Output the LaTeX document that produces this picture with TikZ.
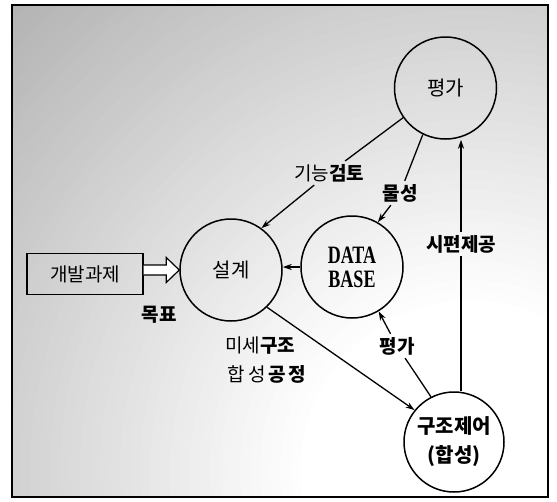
\documentclass[tikz,border=0pt]{standalone}
\usepackage{fontspec}
\setmainfont{Noto Sans CJK KR}
\newfontfamily\dbfont[FakeStretch=0.72]{Liberation Serif}
\usetikzlibrary{arrows.meta,calc}
\begin{document}
\begin{tikzpicture}[x=1pt,y=-1pt,
  circ/.style={circle,draw,line width=1.5pt,minimum size=102pt,inner sep=0pt,align=center,font=\fontsize{20}{23}\selectfont},
  lbl/.style={inner sep=3pt,font=\fontsize{19}{21}\selectfont},
  bl/.style={lbl,font=\fontsize{19}{21}\selectfont\bfseries},
  conn/.style={line width=1.3pt},
  arr/.style={conn,-{Stealth[length=9pt,width=6pt]}}]
\useasboundingbox (0,0) rectangle (557,501);
\begin{scope}
  \clip (12,5) rectangle (548,497);
  \foreach \r in {660,650,...,170}{
    \pgfmathsetmacro{\g}{max(0,30*(\r-170)/490)}
    \fill[black!\g] (470,470) circle[radius=\r];
  }
\end{scope}
\draw[line width=1.8pt] (12,5) rectangle (548,497);

% circles
\node[circ] (eval) at (445.5,88) {평가};
\node[circ] (des) at (231,270) {설계};
\node[circ,font=\dbfont\bfseries\fontsize{25}{24}\selectfont] (db) at (352,267) {DATA\\BASE};
\node[circ,minimum size=100pt,font=\fontsize{20}{29}\selectfont\bfseries] (ctl) at (454,442) {구조제어\\(합성)};

% input box
\node[draw,line width=1.3pt,minimum width=116pt,minimum height=41pt,inner sep=0pt,font=\fontsize{19}{21}\selectfont] (task) at (85,274) {개발과제};

% labels
\node[lbl] (l1) at (329,173) {기능\textbf{검토}};
\node[bl] (l2) at (400,193) {물성};
\node[bl] (l3) at (461,244) {시편제공};
\node[bl] (l4) at (397,346) {평가};
\node[lbl] (l5) at (260,346) {미세\textbf{구조}};
\node[lbl] (l6) at (267,374) {합\hspace{3pt}성\hspace{3pt}\textbf{공\hspace{3pt}정}};
\node[bl] (l7) at (159,315) {목표};

% hollow arrow
\draw[line width=1.2pt,fill=white,line join=miter]
  ($(task.east|-des.west)+(0,-5)$) -- ($(des.west)+(-13,-5)$) -- ($(des.west)+(-13,-12.5)$)
  -- (des.west) -- ($(des.west)+(-13,12.5)$) -- ($(des.west)+(-13,5)$) -- ($(task.east|-des.west)+(0,5)$);

% connectors
\draw[conn] (eval.215) -- (l1);
\draw[arr] (l1) -- (des.54);
\draw[conn] (eval.244) -- (l2);
\draw[arr] (l2) -- (db.60);
\draw[conn] (ctl.117) -- (l4);
\draw[arr] (l4) -- (db.301);
\draw[conn] (ctl.north-|l3.south) -- (l3.south);
\draw[arr] (l3.north) -- (eval.south-|l3.north);
\draw[arr] (des.314) -- (ctl.141);
\draw[arr] (db.west) -- (db.west-|des.east);
\end{tikzpicture}
\end{document}
